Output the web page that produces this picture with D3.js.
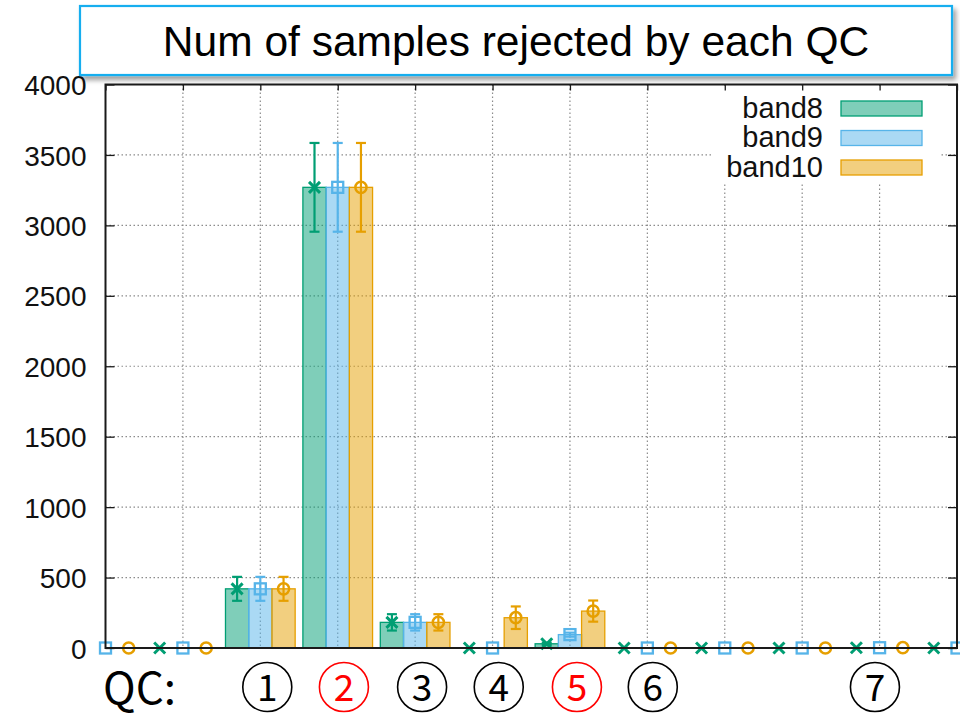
<!DOCTYPE html>
<html>
<head>
<meta charset="utf-8">
<script src="https://cdn.jsdelivr.net/npm/d3@7/dist/d3.min.js"></script>
<style>
  html, body { margin: 0; padding: 0; background: #fff; }
  svg { display: block; }
</style>
</head>
<body>
<script>
// Group slots along the x axis (one cluster of three bands per slot)
const slots = [0, 1, 2, 3, 4, 5, 6, 7, 8, 9, 10, 11];

// Rejected sample counts and their error half-widths, per band
const band8     = [0, 0, 420, 3270, 182, 0, 30, 0, 0, 0, 2, 0];
const band8Err  = [0, 0, 85, 315, 58, 0, 8, 0, 0, 0, 0, 0];
const band9     = [0, 0, 420, 3270, 182, 0, 95, 0, 0, 0, 2, 0];
const band9Err  = [0, 0, 85, 315, 58, 0, 14, 0, 0, 0, 0, 0];
const band10    = [0, 0, 420, 3270, 182, 215, 262, 0, 0, 0, 2, 0];
const band10Err = [0, 0, 85, 315, 58, 80, 75, 0, 0, 0, 0, 0];

const seriesNames = ["band8", "band9", "band10"];
const yTicks = [0, 500, 1000, 1500, 2000, 2500, 3000, 3500, 4000];

// QC step numbers (drawn circled) under the axis, placed on the slot scale
const qcNumbers = ["1", "2", "3", "4", "5", "6", "7"];
const qcAt      = [2.09, 3.08, 4.09, 5.08, 6.09, 7.07, 9.94];
const qcRed     = [false, true, false, false, true, false, false];

const titleText = "Num of samples rejected by each QC";

const W = 960, H = 717;
const plot = { left: 105.5, right: 957, top: 84.5, bottom: 648 };

const colors = ["#009E73", "#56B4E9", "#E69F00"];
const series = [
  { name: seriesNames[0], values: band8,  errs: band8Err,  color: colors[0], marker: "cross",  offset: -0.3 },
  { name: seriesNames[1], values: band9,  errs: band9Err,  color: colors[1], marker: "square", offset: 0 },
  { name: seriesNames[2], values: band10, errs: band10Err, color: colors[2], marker: "circle", offset: 0.3 }
];

const x = d3.scaleLinear().domain([0, 11]).range([plot.left, plot.right]);
const y = d3.scaleLinear().domain([0, 4000]).range([plot.bottom, plot.top]);
const barW = x(0.3) - x(0);

const svg = d3.select("body").append("svg")
  .attr("width", W).attr("height", H)
  .style("font-family", "'Liberation Sans', Arial, sans-serif");

const defs = svg.append("defs");
defs.append("clipPath").attr("id", "plotClip")
  .append("rect")
  .attr("x", plot.left).attr("y", plot.top)
  .attr("width", plot.right - plot.left).attr("height", plot.bottom - plot.top);
const shadow = defs.append("filter").attr("id", "shadow")
  .attr("x", "-5%").attr("y", "-20%").attr("width", "110%").attr("height", "150%");
shadow.append("feDropShadow")
  .attr("dx", 3).attr("dy", 4).attr("stdDeviation", 2.5)
  .attr("flood-color", "#000").attr("flood-opacity", 0.38);

// Grid
const gridStyle = sel => sel
  .attr("stroke", "#8c8c8c").attr("stroke-width", 1.2).attr("stroke-dasharray", "1.5,2.5");
const grid = svg.append("g").attr("class", "grid");
grid.selectAll("line.h").data(yTicks.filter(t => t > 0 && t < 4000)).join("line")
  .attr("x1", plot.left).attr("x2", plot.right)
  .attr("y1", d => y(d)).attr("y2", d => y(d))
  .call(gridStyle);
grid.selectAll("line.v").data(slots.filter(s => s > 0 && s < 11)).join("line")
  .attr("x1", d => x(d)).attr("x2", d => x(d))
  .attr("y1", plot.top).attr("y2", plot.bottom)
  .call(gridStyle);

// Legend background hides the grid behind it
svg.append("rect")
  .attr("x", 712).attr("y", plot.top + 2).attr("width", 227).attr("height", 97)
  .attr("fill", "#fff");

// Bars
const barsG = svg.append("g").attr("clip-path", "url(#plotClip)");
series.forEach(s => {
  const pts = slots.map((slot, i) => ({ slot, v: s.values[i], e: s.errs[i] }));
  barsG.append("g").selectAll("rect").data(pts.filter(p => p.v > 0)).join("rect")
    .attr("x", p => x(p.slot + s.offset) - barW / 2)
    .attr("y", p => y(p.v))
    .attr("width", barW)
    .attr("height", p => y(0) - y(p.v))
    .attr("fill", s.color).attr("fill-opacity", 0.5)
    .attr("stroke", s.color).attr("stroke-width", 1.3);
});

// Error bars and point markers
const markG = svg.append("g");
series.forEach(s => {
  const pts = slots.map((slot, i) => ({ slot, v: s.values[i], e: s.errs[i] }))
    .filter(p => p.slot + s.offset >= 0 && p.slot + s.offset <= 11);
  const g = markG.append("g").attr("stroke", s.color).attr("fill", "none").attr("stroke-width", 2.2);
  pts.filter(p => p.e > 0).forEach(p => {
    const cx = x(p.slot + s.offset);
    const y1 = y(p.v + p.e), y0 = y(p.v - p.e);
    g.append("line").attr("x1", cx).attr("x2", cx).attr("y1", y1).attr("y2", y0);
    g.append("line").attr("x1", cx - 5).attr("x2", cx + 5).attr("y1", y1).attr("y2", y1);
    g.append("line").attr("x1", cx - 5).attr("x2", cx + 5).attr("y1", y0).attr("y2", y0);
  });
  pts.forEach(p => {
    const cx = x(p.slot + s.offset), cy = y(p.v);
    if (s.marker === "cross") {
      const r = 5.5;
      g.append("path").attr("stroke-width", 3)
        .attr("d", `M${cx - r},${cy - r}L${cx + r},${cy + r}M${cx - r},${cy + r}L${cx + r},${cy - r}`);
    } else if (s.marker === "square") {
      g.append("rect").attr("x", cx - 5.5).attr("y", cy - 5.5).attr("width", 11).attr("height", 11)
        .attr("stroke-width", 2.3);
    } else {
      g.append("circle").attr("cx", cx).attr("cy", cy).attr("r", 5.6).attr("stroke-width", 2.5);
    }
  });
});

// Axes: left labels, inward ticks on all sides
const axisColor = "#1a1a1a";
const axisL = svg.append("g").attr("transform", `translate(${plot.left},0)`)
  .call(d3.axisLeft(y).tickValues(yTicks).tickFormat(d3.format("d")).tickSizeInner(-9).tickSizeOuter(0).tickPadding(19));
axisL.select(".domain").remove();
axisL.selectAll(".tick line").attr("stroke", axisColor).attr("stroke-width", 1.3);
axisL.selectAll(".tick text").attr("fill", "#111").style("font-size", "28px")
  .style("font-family", "'Liberation Sans', Arial, sans-serif").attr("dy", "0.36em");

const axisR = svg.append("g").attr("transform", `translate(${plot.right},0)`)
  .call(d3.axisRight(y).tickValues(yTicks).tickFormat("").tickSizeInner(-9).tickSizeOuter(0));
axisR.select(".domain").remove();
axisR.selectAll(".tick line").attr("stroke", axisColor).attr("stroke-width", 1.3);

const axisT = svg.append("g").attr("transform", `translate(0,${plot.top})`)
  .call(d3.axisTop(x).tickValues(slots).tickFormat("").tickSizeInner(-6).tickSizeOuter(0));
axisT.select(".domain").remove();
axisT.selectAll(".tick line").attr("stroke", axisColor).attr("stroke-width", 1.3);

// Plot border
svg.append("rect")
  .attr("x", plot.left).attr("y", plot.top)
  .attr("width", plot.right - plot.left).attr("height", plot.bottom - plot.top)
  .attr("fill", "none").attr("stroke", axisColor).attr("stroke-width", 2);

// Legend
const legend = svg.append("g");
series.forEach((s, i) => {
  const cy = 108.5 + i * 29.5;
  legend.append("text").attr("x", 823).attr("y", cy + 9)
    .attr("text-anchor", "end").style("font-size", "29px").attr("fill", "#111")
    .text(s.name);
  legend.append("rect").attr("x", 841).attr("y", cy - 7.5).attr("width", 81).attr("height", 15)
    .attr("fill", s.color).attr("fill-opacity", 0.5)
    .attr("stroke", s.color).attr("stroke-width", 1.3);
});

// Title box
svg.append("rect")
  .attr("x", 80).attr("y", 6).attr("width", 872).attr("height", 69)
  .attr("fill", "#fff").attr("stroke", "#12AEEF").attr("stroke-width", 2.2)
  .attr("filter", "url(#shadow)");
svg.append("text")
  .attr("x", 516).attr("y", 56).attr("text-anchor", "middle")
  .style("font-size", "42.5px").attr("fill", "#000")
  .text(titleText);

// QC labels: "QC:" and circled step numbers
const cjk = "'Noto Sans CJK JP', 'Noto Sans CJK SC', sans-serif";
svg.append("text").attr("x", 103).attr("y", 704)
  .style("font-family", cjk).style("font-size", "44px").attr("fill", "#000")
  .text("QC:");
const qc = svg.append("g").selectAll("g").data(qcNumbers).join("g")
  .attr("transform", (d, i) => `translate(${x(qcAt[i])},687)`);
qc.append("circle").attr("r", 24.5)
  .attr("fill", "none").attr("stroke-width", 1.6)
  .attr("stroke", (d, i) => qcRed[i] ? "#FF0000" : "#000");
qc.append("text")
  .attr("y", 13.5).attr("text-anchor", "middle")
  .style("font-family", cjk).style("font-size", "37px").style("font-weight", 400)
  .attr("fill", (d, i) => qcRed[i] ? "#FF0000" : "#000")
  .text(d => d);
</script>
</body>
</html>
